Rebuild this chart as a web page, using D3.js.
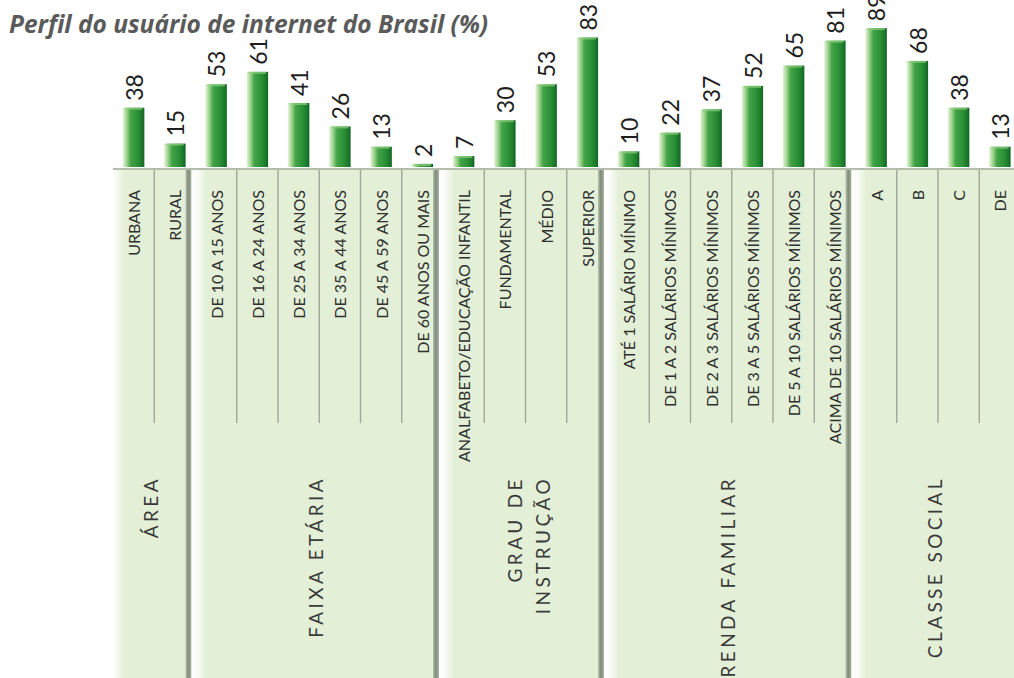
<!DOCTYPE html>
<html>
<head>
<meta charset="utf-8">
<script src="https://cdn.jsdelivr.net/npm/d3@7"></script>
<style>
  body { margin: 0; background: #fff; }
  svg { display: block; }
</style>
</head>
<body>
<svg id="chart" width="1014" height="678"></svg>
<script>
// data
var categories = ["URBANA", "RURAL",
  "DE 10 A 15 ANOS", "DE 16 A 24 ANOS", "DE 25 A 34 ANOS", "DE 35 A 44 ANOS", "DE 45 A 59 ANOS", "DE 60 ANOS OU MAIS",
  "ANALFABETO/EDUCAÇÃO INFANTIL", "FUNDAMENTAL", "MÉDIO", "SUPERIOR",
  "ATÉ 1 SALÁRIO MÍNIMO", "DE 1 A 2 SALÁRIOS MÍNIMOS", "DE 2 A 3 SALÁRIOS MÍNIMOS", "DE 3 A 5 SALÁRIOS MÍNIMOS", "DE 5 A 10 SALÁRIOS MÍNIMOS", "ACIMA DE 10 SALÁRIOS MÍNIMOS",
  "A", "B", "C", "DE"];
var values = [38, 15, 53, 61, 41, 26, 13, 2, 7, 30, 53, 83, 10, 22, 37, 52, 65, 81, 89, 68, 38, 13];
var groupNames = [["ÁREA"], ["FAIXA ETÁRIA"], ["GRAU DE", "INSTRUÇÃO"], ["RENDA FAMILIAR"], ["CLASSE SOCIAL"]];
var groupSizes = [2, 6, 4, 6, 4];

var svg = d3.select("#chart"),
    width = +svg.attr("width"),
    height = +svg.attr("height");

var baseY = 167, panelTop = 169, dividerEnd = 423, labelTop = 190, groupLabelTop = 476;

var x = d3.scaleBand()
  .domain(categories)
  .range([113, 1020.5])
  .paddingInner(0.48)
  .paddingOuter(0.24);

var y = d3.scaleLinear()
  .domain([0, 100])
  .range([baseY, baseY - 156]);

var half = (x.step() - x.bandwidth()) / 2;

// gradients
var defs = svg.append("defs");
var barGrad = defs.append("linearGradient").attr("id", "barGrad");
[["0%", "#e6f3dc"], ["16%", "#a6d894"], ["36%", "#43a447"], ["70%", "#2a8f36"], ["88%", "#1b7a2a"], ["100%", "#126424"]]
  .forEach(function(s) { barGrad.append("stop").attr("offset", s[0]).attr("stop-color", s[1]); });

var leftGrad = defs.append("linearGradient").attr("id", "leftGrad");
leftGrad.append("stop").attr("offset", "0%").attr("stop-color", "#ffffff");
leftGrad.append("stop").attr("offset", "100%").attr("stop-color", "#e3efd6");

var borderGrad = defs.append("linearGradient").attr("id", "borderGrad");
[["0%", "#b8c2b1"], ["45%", "#7f8b78"], ["100%", "#a9b3a3"]]
  .forEach(function(s) { borderGrad.append("stop").attr("offset", s[0]).attr("stop-color", s[1]); });

// group panels
var groups = [], start = 0;
groupSizes.forEach(function(n, i) {
  var first = categories[start], last = categories[start + n - 1];
  groups.push({
    names: groupNames[i],
    cats: categories.slice(start, start + n),
    x0: x(first) - half,
    x1: x(last) + x.bandwidth() + half
  });
  start += n;
});

var panel = svg.selectAll("g.panel")
  .data(groups).enter()
  .append("g")
  .attr("class", "panel");

panel.append("rect")
  .attr("x", function(d) { return d.x0; })
  .attr("y", panelTop)
  .attr("width", function(d) { return d.x1 - d.x0; })
  .attr("height", height - panelTop)
  .attr("fill", "#e3efd6");

panel.append("rect")
  .attr("x", function(d) { return d.x0; })
  .attr("y", panelTop)
  .attr("width", 11)
  .attr("height", height - panelTop)
  .attr("fill", "url(#leftGrad)");

panel.filter(function(d, i) { return i < groups.length - 1; })
  .append("rect")
  .attr("x", function(d) { return d.x1 - 10; })
  .attr("y", panelTop)
  .attr("width", 6)
  .attr("height", height - panelTop)
  .attr("fill", "url(#borderGrad)");

panel.filter(function(d, i) { return i < groups.length - 1; })
  .append("rect")
  .attr("x", function(d) { return d.x1 - 4; })
  .attr("y", panelTop)
  .attr("width", 4)
  .attr("height", height - panelTop)
  .attr("fill", "#fff");

// thin dividers between cells
panel.each(function(d) {
  d3.select(this).selectAll("line.div")
    .data(d.cats.slice(1)).enter()
    .append("line")
    .attr("class", "div")
    .attr("x1", function(c) { return x(c) - half; })
    .attr("x2", function(c) { return x(c) - half; })
    .attr("y1", panelTop)
    .attr("y2", dividerEnd)
    .attr("stroke", "#9ea898")
    .attr("stroke-width", 1.4);
});

// top edge of the panels
svg.append("line")
  .attr("x1", groups[0].x0).attr("x2", width)
  .attr("y1", panelTop).attr("y2", panelTop)
  .attr("stroke", "#b4bcae")
  .attr("stroke-width", 2);

// group labels
panel.each(function(d) {
  var cx = (d.x0 + d.x1) / 2 - 3;
  var lines = d.names;
  var lineGap = 28;
  d3.select(this).selectAll("text.group")
    .data(lines).enter()
    .append("text")
    .attr("class", "group")
    .attr("transform", function(t, j) {
      var off = (j - (lines.length - 1) / 2) * lineGap + (lines.length > 1 ? 7 : 0);
      return "translate(" + (cx + off) + "," + groupLabelTop + ") rotate(-90)";
    })
    .attr("dy", "0.35em")
    .attr("text-anchor", "end")
    .attr("font-family", "Lato, 'Open Sans', sans-serif")
    .attr("font-size", 19)
    .attr("letter-spacing", 3.4)
    .attr("fill", "#3a3a3a")
    .text(function(t) { return t; });
});

// category labels
svg.selectAll("text.cat")
  .data(categories).enter()
  .append("text")
  .attr("class", "cat")
  .attr("transform", function(d) {
    return "translate(" + (x(d) + x.bandwidth() / 2 + 1) + "," + labelTop + ") rotate(-90)";
  })
  .attr("dy", "0.35em")
  .attr("text-anchor", "end")
  .attr("font-family", "Lato, 'Open Sans', sans-serif")
  .attr("font-size", 16)
  .attr("fill", "#2f2f2f")
  .text(function(d) { return d; });

// bars
var bars = svg.selectAll("g.bar")
  .data(values).enter()
  .append("g")
  .attr("class", "bar");

bars.append("rect")
  .attr("x", function(d, i) { return x(categories[i]); })
  .attr("y", function(d) { return y(d); })
  .attr("width", x.bandwidth())
  .attr("height", function(d) { return baseY - y(d); })
  .attr("fill", "url(#barGrad)");

bars.append("rect")
  .attr("x", function(d, i) { return x(categories[i]) + 2; })
  .attr("y", function(d) { return y(d); })
  .attr("width", x.bandwidth() - 4)
  .attr("height", function(d) { return Math.min(2, baseY - y(d)); })
  .attr("fill", "#8fcf7e")
  .attr("opacity", 0.7);

// value labels
svg.selectAll("text.val")
  .data(values).enter()
  .append("text")
  .attr("class", "val")
  .attr("transform", function(d, i) {
    return "translate(" + (x(categories[i]) + x.bandwidth() / 2 + 1) + "," + (y(d) - 7) + ") rotate(-90)";
  })
  .attr("dy", "0.36em")
  .attr("text-anchor", "start")
  .attr("font-family", "Lato, 'Open Sans', sans-serif")
  .attr("font-size", 23)
  .attr("fill", "#1e1e1e")
  .text(function(d) { return d; });

// title
svg.append("text")
  .attr("x", 9)
  .attr("y", 33)
  .attr("font-family", "'Open Sans', sans-serif")
  .attr("font-size", 24.5)
  .attr("font-weight", "bold")
  .attr("font-style", "italic")
  .attr("fill", "#5a5a5a")
  .text("Perfil do usuário de internet do Brasil (%)");
</script>
</body>
</html>
